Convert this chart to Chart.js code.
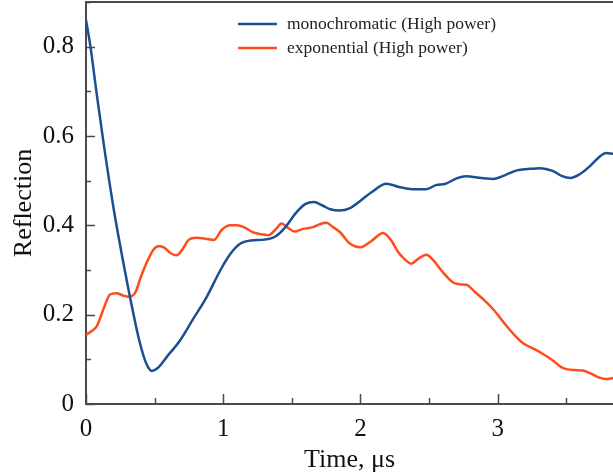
<!DOCTYPE html>
<html>
<head>
<meta charset="utf-8">
<script src="https://cdn.jsdelivr.net/npm/chart.js@4.4.1/dist/chart.umd.min.js"></script>
<style>
  html, body { margin: 0; padding: 0; background: #fff; }
  canvas { display: block; }
</style>
</head>
<body>
<canvas id="reflChart" width="613" height="476"></canvas>
<script>
// time in microseconds, reflection values
const monoTime = [0, 0.03, 0.08, 0.13, 0.2, 0.27, 0.33, 0.39, 0.44, 0.48, 0.52, 0.6, 0.68, 0.78, 0.88, 0.98,
    1.05, 1.12, 1.2, 1.3, 1.38, 1.45, 1.53, 1.6, 1.66, 1.72, 1.78, 1.85, 1.92, 2.0, 2.08, 2.19, 2.28, 2.38,
    2.48, 2.55, 2.62, 2.7, 2.77, 2.88, 2.97, 3.05, 3.14, 3.22, 3.31, 3.4, 3.47, 3.53, 3.6, 3.67, 3.74, 3.79, 3.84];
const monoValue = [0.86, 0.805, 0.69, 0.58, 0.44, 0.32, 0.225, 0.14, 0.09, 0.074, 0.08, 0.11, 0.14, 0.19, 0.24, 0.30,
    0.335, 0.358, 0.366, 0.368, 0.375, 0.395, 0.428, 0.448, 0.452, 0.445, 0.436, 0.433, 0.438, 0.455, 0.474, 0.493, 0.486, 0.481,
    0.481, 0.49, 0.493, 0.505, 0.51, 0.506, 0.504, 0.512, 0.523, 0.526, 0.528, 0.522, 0.51, 0.506, 0.515, 0.532, 0.553, 0.562, 0.56];

const expTime = [0, 0.04, 0.08, 0.13, 0.175, 0.22, 0.27, 0.31, 0.36, 0.4, 0.44, 0.49, 0.53, 0.57, 0.62, 0.66, 0.7, 0.75,
    0.8, 0.87, 0.93, 0.99, 1.05, 1.1, 1.15, 1.22, 1.28, 1.33, 1.38, 1.425, 1.47, 1.52, 1.58, 1.655, 1.7, 1.75, 1.8,
    1.85, 1.92, 2.0, 2.08, 2.165, 2.22, 2.28, 2.33, 2.37, 2.42, 2.48, 2.53, 2.6, 2.675, 2.72, 2.77, 2.83, 2.9, 2.97,
    3.05, 3.12, 3.185, 3.26, 3.33, 3.4, 3.46, 3.5, 3.56, 3.62, 3.68, 3.74, 3.79, 3.84];
const expValue = [0.155, 0.163, 0.175, 0.215, 0.245, 0.248, 0.243, 0.24, 0.25, 0.285, 0.315, 0.345, 0.353, 0.35, 0.337, 0.333, 0.345, 0.368,
    0.372, 0.37, 0.367, 0.39, 0.40, 0.40, 0.396, 0.384, 0.38, 0.378, 0.39, 0.404, 0.395, 0.386, 0.392, 0.396, 0.402, 0.406, 0.396,
    0.385, 0.36, 0.351, 0.365, 0.383, 0.368, 0.338, 0.322, 0.314, 0.325, 0.334, 0.322, 0.295, 0.272, 0.268, 0.267, 0.252, 0.233, 0.211,
    0.18, 0.155, 0.136, 0.124, 0.112, 0.098, 0.083, 0.078, 0.076, 0.075, 0.068, 0.059, 0.056, 0.058];

const seriesNames = ['monochromatic (High power)', 'exponential (High power)'];
const seriesColors = ['#1b4f93', '#ff4c1c'];

const xMin = 0, xMax = 3.84, xMajor = 1, xMinor = 0.5;
const yMin = 0, yMax = 0.9, yMajor = 0.2, yMinor = 0.1;

const serif = '"Liberation Serif", "Times New Roman", serif';
const axisColor = '#4a4a4a';

function toPoints(xs, ys) {
    return xs.map((x, i) => ({ x: x, y: ys[i] }));
}

// ticks inside the frame, plus the top frame line
const frameTicks = {
    id: 'frameTicks',
    afterDraw(chart) {
        const { ctx, chartArea, scales } = chart;
        ctx.save();
        ctx.strokeStyle = axisColor;
        ctx.lineWidth = 1.5;
        ctx.beginPath();
        for (let v = xMin; v <= xMax + 1e-9; v += xMinor) {
            const px = Math.round(scales.x.getPixelForValue(v)) + 0.5;
            const major = Math.abs(v / xMajor - Math.round(v / xMajor)) < 1e-6;
            ctx.moveTo(px, chartArea.bottom);
            ctx.lineTo(px, chartArea.bottom - (major ? 10 : 6));
        }
        for (let v = yMin; v <= yMax + 1e-9; v += yMinor) {
            const py = Math.round(scales.y.getPixelForValue(v)) + 0.5;
            const major = Math.abs(v / yMajor - Math.round(v / yMajor)) < 1e-6;
            ctx.moveTo(chartArea.left, py);
            ctx.lineTo(chartArea.left + (major ? 9 : 5), py);
        }
        ctx.stroke();
        ctx.lineWidth = 2;
        ctx.beginPath();
        ctx.moveTo(chartArea.left, chartArea.top);
        ctx.lineTo(chartArea.right, chartArea.top);
        ctx.stroke();

        // legend
        ctx.font = '17.5px ' + serif;
        ctx.textBaseline = 'middle';
        ctx.fillStyle = '#222';
        const rows = [24, 48];
        seriesNames.forEach((name, i) => {
            ctx.strokeStyle = seriesColors[i];
            ctx.lineWidth = 2.5;
            ctx.beginPath();
            ctx.moveTo(238, rows[i]);
            ctx.lineTo(277, rows[i]);
            ctx.stroke();
            ctx.fillText(name, 287, rows[i]);
        });
        ctx.restore();
    }
};

const ctx = document.getElementById('reflChart').getContext('2d');

new Chart(ctx, {
    type: 'line',
    data: {
        datasets: [{
            label: seriesNames[0],
            data: toPoints(monoTime, monoValue),
            borderColor: seriesColors[0],
            borderWidth: 2.5,
            pointRadius: 0,
            cubicInterpolationMode: 'monotone',
            fill: false
        }, {
            label: seriesNames[1],
            data: toPoints(expTime, expValue),
            borderColor: seriesColors[1],
            borderWidth: 2.5,
            pointRadius: 0,
            cubicInterpolationMode: 'monotone',
            fill: false
        }]
    },
    options: {
        responsive: false,
        animation: false,
        devicePixelRatio: 1,
        layout: { padding: { top: 2, right: 0, left: 0, bottom: 0 } },
        plugins: {
            legend: { display: false },
            tooltip: { enabled: false }
        },
        scales: {
            x: {
                type: 'linear',
                min: xMin,
                max: xMax,
                afterFit: s => { s.height = 72; s.paddingLeft = 0; s.paddingRight = 0; },
                grid: { display: false, drawTicks: false },
                border: { display: true, color: axisColor, width: 2 },
                ticks: {
                    stepSize: xMajor,
                    includeBounds: false,
                    padding: 10,
                    color: '#111',
                    font: { family: serif, size: 25 },
                    maxRotation: 0
                },
                title: {
                    display: true,
                    text: 'Time, μs',
                    color: '#111',
                    font: { family: serif, size: 26 },
                    padding: { top: 0, bottom: 0 }
                }
            },
            y: {
                type: 'linear',
                min: yMin,
                max: yMax,
                afterFit: s => { s.width = 86; s.paddingTop = 0; s.paddingBottom = 0; },
                grid: { display: false, drawTicks: false },
                border: { display: true, color: axisColor, width: 2 },
                ticks: {
                    stepSize: yMajor,
                    includeBounds: false,
                    padding: 12,
                    color: '#111',
                    font: { family: serif, size: 25 },
                    callback: v => String(Math.round(v * 10) / 10)
                },
                title: {
                    display: true,
                    text: 'Reflection',
                    color: '#111',
                    font: { family: serif, size: 26 },
                    padding: { top: 9, bottom: 0 }
                }
            }
        }
    },
    plugins: [frameTicks]
});
</script>
</body>
</html>
